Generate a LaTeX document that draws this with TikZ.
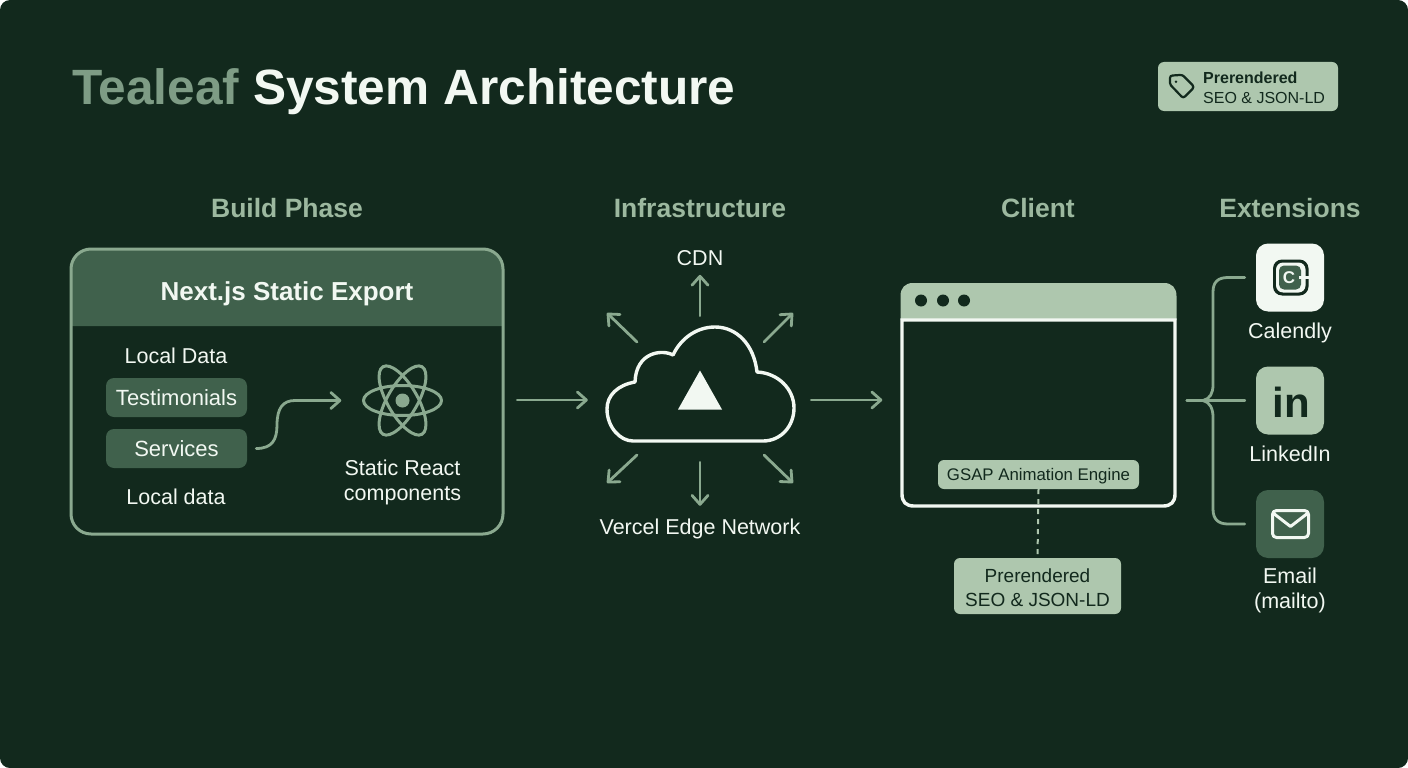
\documentclass[tikz,border=0pt]{standalone}
\usepackage{fontspec}
\setmainfont{Liberation Sans}
\usetikzlibrary{arrows.meta, positioning}
\definecolor{pagebg}{HTML}{12291D}
\definecolor{midgreen}{HTML}{40614C}
\definecolor{palegreen}{HTML}{AEC7AE}
\definecolor{headgreen}{HTML}{9CB89F}
\definecolor{linegreen}{HTML}{8AA98F}
\definecolor{titlegreen}{HTML}{7E9C85}
\definecolor{softwhite}{HTML}{F2F8F2}
\tikzstyle{heading} = [text=headgreen, font=\fontsize{26.5}{30}\selectfont\bfseries]
\tikzstyle{label} = [text=softwhite, font=\fontsize{21.5}{25}\selectfont, align=center]
\tikzstyle{chip} = [fill=midgreen, rounded corners=8pt, minimum width=141pt, minimum height=39pt, text=softwhite, font=\fontsize{22}{25}\selectfont]
\tikzstyle{note} = [fill=palegreen, rounded corners=6pt, text=pagebg, align=center]
\tikzstyle{iconbox} = [rounded corners=12pt, minimum size=68pt]
\tikzstyle{flow} = [line width=2.8pt, linegreen, -{Straight Barb[length=9pt,width=16pt,round]}]
\tikzstyle{link} = [line width=2.8pt, linegreen]

\begin{document}
\begin{tikzpicture}[x=1pt, y=-1pt, inner sep=0pt, line cap=round, line join=round]
        \useasboundingbox (0,0) rectangle (1408,768);
        \fill [white] (0,0) rectangle (1408,768);
        \fill [pagebg, rounded corners=10pt] (0,0) rectangle (1408,768);

        % title and tag
        \node (title) [anchor=west, font=\fontsize{49.6}{56}\selectfont\bfseries, text=softwhite] at (72,92) {\textcolor{titlegreen}{Tealeaf} System Architecture};
        \node (tagbox) [note, minimum width=180pt, minimum height=49pt] at (1248,86.5) {};
        \node (tagtext) [anchor=west, text=pagebg, align=left, font=\fontsize{16}{20}\selectfont] at (1203,87.5) {\textbf{Prerendered}\\SEO \& JSON-LD};
        \draw [pagebg, line width=2.2pt] (1170,78) .. controls (1170,76.5) and (1171,75.5) .. (1172.5,75.5) -- (1180,75) .. controls (1182,75) and (1183,75.5) .. (1184,76.5) -- (1192.5,85) .. controls (1193.5,86.5) and (1193.5,87.5) .. (1192.5,89) -- (1185,96.5) .. controls (1184,97.5) and (1182.5,97.5) .. (1181.5,96.5) -- (1171,85.5) .. controls (1170.5,85) and (1170,84) .. (1170,83) -- cycle;
        \fill [pagebg] (1176,81.7) circle (1.4);

        % column headings
        \node (build) [heading] at (287,208) {Build Phase};
        \node (infra) [heading] at (700,208) {Infrastructure};
        \node (client) [heading] at (1038,208) {Client};
        \node (ext) [heading] at (1290,208) {Extensions};

        % build phase panel
        \node (panel) [minimum width=432pt, minimum height=285pt] at (287,391.5) {};
        \fill [midgreen] (71,326) -- (71,269) .. controls (71,258) and (80,249) .. (91,249) -- (483,249) .. controls (494,249) and (503,258) .. (503,269) -- (503,326) -- cycle;
        \draw [linegreen, line width=3pt, rounded corners=20pt] (71,249) rectangle (503,534);
        \node (export) [text=softwhite, font=\fontsize{26}{30}\selectfont\bfseries] at (287,294) {Next.js Static Export};
        \node (datatop) [label] at (176,356) {Local Data};
        \node (testi) [chip] at (176.5,397.5) {Testimonials};
        \node (serv) [chip] at (176.5,448.5) {Services};
        \node (databot) [label] at (176,497) {Local data};
        \node (atom) [minimum size=80pt] at (402.5,400.5) {};
        \foreach \a in {0,60,120}
            \draw [linegreen, line width=3pt, rotate around={\a:(atom)}] (atom) ellipse (39 and 15);
        \fill [linegreen] (atom) circle (7);
        \node (react) [label] at (402.5,482.5) {Static React\\components};
        \draw [flow, shorten <=9pt, shorten >=21pt] (serv.east) .. controls (272,448.5) and (277,440) .. (277,425) .. controls (277,408) and (283,400.5) .. (295,400.5) -- (atom.west);

        % infrastructure
        \node (cloud) [minimum width=188pt, minimum height=114pt] at (700,384) {};
        \coordinate (flowy) at (700,400);
        \draw [softwhite, line width=3.4pt] (633,441) -- (763,441) .. controls (781,441) and (794,426) .. (794,408) .. controls (794,389) and (778,373) .. (757,372) .. controls (754,345) and (737,327) .. (715,327) .. controls (697,327) and (681,338) .. (673,355) .. controls (662,349) and (636,352) .. (635,382) .. controls (618,385) and (607,395) .. (607,409) .. controls (607,427) and (620,441) .. (633,441) -- cycle;
        \fill [softwhite] (700,370.5) -- (722,409.5) -- (678,409.5) -- cycle;
        \node (cdn) [label] at (700,258) {CDN};
        \node (edge) [label] at (700,529) {Vercel Edge Network};
        \draw [flow, shorten <=11pt, shorten >=9pt] (cloud.north) -- (cdn.south);
        \draw [flow, shorten <=21pt, shorten >=13pt] (cloud.south) -- (edge.north);
        \foreach \n/\ax/\ay/\bx/\by in {ul/637/342/607/313, ur/764/342/793/313, dl/637/455/607/483, dr/764/455/793/483} {
            \coordinate (\n from) at (\ax,\ay);
            \coordinate (\n to) at (\bx,\by);
            \draw [flow] (\n from) -- (\n to);
        }
        \draw [flow, shorten <=14pt, shorten >=18pt] (panel.east |- flowy) -- (cloud.west |- flowy);

        % client browser
        \node (browser) [minimum width=276pt, minimum height=225pt] at (1038.5,395) {};
        \fill [palegreen] (900.5,320) -- (900.5,296) .. controls (900.5,288) and (905,283) .. (913,283) -- (1164,283) .. controls (1172,283) and (1176.5,288) .. (1176.5,296) -- (1176.5,320) -- cycle;
        \draw [softwhite, line width=3.4pt, line join=miter] (902,320) -- (902,494) .. controls (902,502) and (906,506) .. (914,506) -- (1163,506) .. controls (1171,506) and (1175,502) .. (1175,494) -- (1175,320) -- cycle;
        \foreach \x in {921,943,964}
            \fill [pagebg] (\x,300.5) circle (6);
        \node (gsap) [note, minimum width=201pt, minimum height=29pt, text height=14pt, text depth=2pt, font=\fontsize{16.8}{20}\selectfont] at (1038.5,474.5) {GSAP Animation Engine};
        \node (seo) [note, minimum width=167pt, minimum height=56pt, text height=42pt, font=\fontsize{19}{24}\selectfont] at (1037.5,586) {Prerendered\\SEO \& JSON-LD};
        \draw [palegreen, line width=2pt, dash pattern=on 5pt off 5pt, line cap=butt] (gsap.south) -- (seo.north);
        \draw [flow, shorten <=17pt, shorten >=18pt] (cloud.east |- flowy) -- (browser.west |- flowy);

        % extensions
        \node (calendly) [iconbox, fill=softwhite] at (1290,277.5) {};
        \node (linkedin) [iconbox, fill=palegreen] at (1290,400.5) {};
        \node (email) [iconbox, fill=midgreen] at (1290,524) {};
        \node (callabel) [label] at (1290,333) {Calendly};
        \node (linlabel) [label] at (1290,454) {LinkedIn};
        \node (emlabel) [label] at (1290,590.5) {Email\\(mailto)};
        \node (inmark) [text=pagebg, font=\fontsize{42}{50}\selectfont\bfseries] at (1291,402) {in};
        \fill [pagebg, rounded corners=9pt] (1273,259.5) rectangle (1308.5,295.5);
        \fill [softwhite, rounded corners=7pt] (1276,262.5) rectangle (1305.5,292.5);
        \fill [midgreen, rounded corners=5pt] (1279,265.5) rectangle (1301,289.5);
        \fill [softwhite] (1299,275.5) rectangle (1311,278.5);
        \node (calc) [text=softwhite, font=\fontsize{17}{20}\selectfont\bfseries] at (1289,278) {C};
        \draw [softwhite, line width=3pt, rounded corners=4pt] (1272.5,510.5) rectangle (1308.5,537.5);
        \draw [softwhite, line width=3pt] (1273,513) -- (1290.5,526.5) -- (1308,513);
        \draw [link, shorten <=10pt, shorten >=11pt] (browser.east |- linkedin) -- (linkedin.west);
        \draw [link] ([xshift=-11pt]calendly.west) -- (1228,277.5) .. controls (1218,277.5) and (1213,282) .. (1213,292) -- (1213,385) .. controls (1213,393) and (1210,399) .. (1203,400.5) .. controls (1210,402) and (1213,409) .. (1213,417) -- (1213,509) .. controls (1213,519) and (1218,524) .. (1228,524) -- ([xshift=-11pt]email.west);
    \end{tikzpicture}
\end{document}
